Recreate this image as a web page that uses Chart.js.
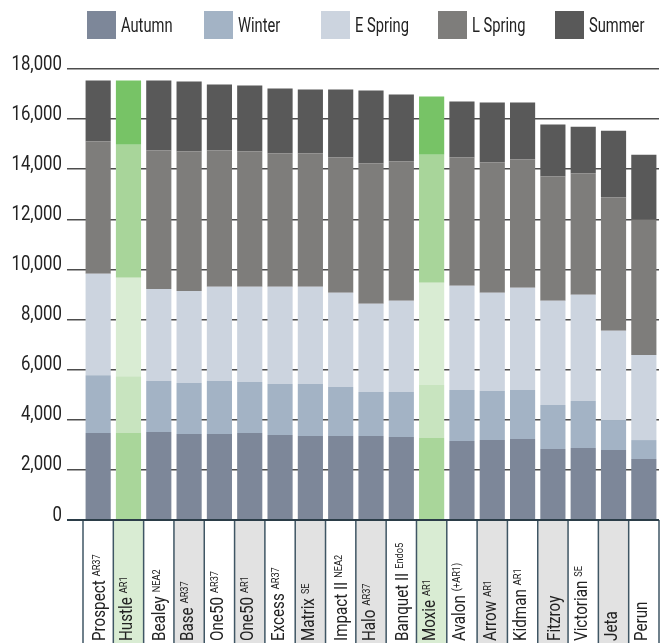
<!DOCTYPE html>
<html>
<head>
<meta charset="utf-8">
<script src="https://cdn.jsdelivr.net/npm/chart.js@4.4.1/dist/chart.umd.min.js"></script>
<style>
  html, body { margin: 0; padding: 0; background: #fff; }
  #wrap { position: relative; width: 668px; height: 643px; }
  #legend { position: absolute; left: 87px; top: 11px; display: flex; }
  .item { width: 117px; height: 28px; display: flex; align-items: center; color: #222;
          font: 21px Roboto, sans-serif; white-space: nowrap; }
  .box { width: 29px; height: 28px; margin-right: 5px; flex: none; }
  .txt { display: inline-block; transform: scaleX(0.7); transform-origin: left center; }
</style>
</head>
<body>
<div id="wrap">
  <canvas id="chart" width="668" height="643"></canvas>
  <div id="legend"></div>
</div>
<script>
// --- DATA ---
const varieties = ['Prospect', 'Hustle', 'Bealey', 'Base', 'One50', 'One50', 'Excess', 'Matrix', 'Impact II', 'Halo',
                   'Banquet II', 'Moxie', 'Avalon', 'Arrow', 'Kidman', 'Fitzroy', 'Victorian', 'Jeta', 'Perun'];
const endophytes = ['AR37', 'AR1', 'NEA2', 'AR37', 'AR37', 'AR1', 'AR37', 'SE', 'NEA2', 'AR37',
                    'Endo5', 'AR1', '(+AR1)', 'AR1', 'AR1', '', 'SE', '', ''];
const newVarieties = ['Hustle', 'Moxie'];

const seasons = ['Autumn', 'Winter', 'E Spring', 'L Spring', 'Summer'];
const autumn      = [3470, 3470, 3510, 3430, 3430, 3470, 3390, 3350, 3350, 3350, 3310, 3270, 3150, 3190, 3230, 2830, 2870, 2790, 2430];
const winter      = [2310, 2270, 2040, 2040, 2120, 2040, 2040, 2080, 1960, 1760, 1800, 2120, 2040, 1960, 1960, 1760, 1880, 1200, 760];
const earlySpring = [4050, 3930, 3670, 3670, 3760, 3800, 3880, 3880, 3760, 3520, 3640, 4080, 4160, 3920, 4080, 4160, 4240, 3560, 3400];
const lateSpring  = [5280, 5310, 5530, 5570, 5440, 5400, 5320, 5320, 5400, 5600, 5560, 5110, 5120, 5200, 5120, 4960, 4840, 5320, 5400];
const summer      = [2430, 2560, 2790, 2790, 2630, 2630, 2590, 2550, 2710, 2910, 2670, 2320, 2230, 2390, 2270, 2070, 1870, 2670, 2590];

const yMax = 18000;
const yStep = 2000;

// --- STYLE ---
const FONT = 'Roboto, sans-serif';
const SQUEEZE = 0.8; // pas de police condensee dispo -> on ecrase en largeur
const greyColours  = ['#7d8799', '#a3b3c5', '#ccd4df', '#7e7d7b', '#595959'];
const greenColours = ['#a9d69a', '#c8e4bf', '#d9ecd3', '#a8d59a', '#77c366'];

const seriesValues = [autumn, winter, earlySpring, lateSpring, summer];

const datasets = seasons.map((name, s) => ({
    label: name,
    data: seriesValues[s],
    backgroundColor: varieties.map(v => newVarieties.includes(v) ? greenColours[s] : greyColours[s]),
    borderWidth: 0,
    barPercentage: 0.83,
    categoryPercentage: 1.0
}));

// Legende HTML
const legendDiv = document.getElementById('legend');
seasons.forEach((name, s) => {
    const item = document.createElement('div');
    item.className = 'item';
    item.innerHTML = `<span class="box" style="background:${greyColours[s]}"></span><span class="txt">${name}</span>`;
    legendDiv.appendChild(item);
});

// Texte ecrase horizontalement
function squeezedText(ctx, text, x, y, align) {
    ctx.save();
    ctx.translate(x, y);
    ctx.scale(SQUEEZE, 1);
    ctx.textAlign = align;
    ctx.fillText(text, 0, 0);
    ctx.restore();
}

// Etiquettes de l'axe Y
const yLabels = {
    id: 'yLabels',
    afterDraw(chart) {
        const ctx = chart.ctx;
        const yScale = chart.scales.y;
        ctx.save();
        ctx.fillStyle = '#222';
        ctx.font = '21px ' + FONT;
        ctx.textBaseline = 'alphabetic';
        yScale.ticks.forEach(t => {
            squeezedText(ctx, t.value.toLocaleString('en-US'), 62, yScale.getPixelForValue(t.value) + 0.5, 'right');
        });
        ctx.restore();
    }
};

// Cellules des noms sous l'axe
const labelCells = {
    id: 'labelCells',
    afterDraw(chart) {
        const ctx = chart.ctx;
        const xScale = chart.scales.x;
        const area = chart.chartArea;
        const w = (area.right - area.left) / varieties.length;
        const top = area.bottom;
        const bottom = chart.height;

        ctx.save();
        varieties.forEach((name, i) => {
            const cx = xScale.getPixelForValue(i);
            ctx.fillStyle = newVarieties.includes(name) ? '#d9ecd3' : (i % 2 ? '#e2e2e2' : '#ffffff');
            ctx.fillRect(cx - w / 2, top, w, bottom - top);
        });

        ctx.strokeStyle = '#3f5664';
        ctx.lineWidth = 1.5;
        for (let i = 0; i <= varieties.length; i++) {
            const x = area.left + i * w;
            ctx.beginPath();
            ctx.moveTo(x, top);
            ctx.lineTo(x, bottom);
            ctx.stroke();
        }
        ctx.strokeStyle = '#2b3d48';
        ctx.lineWidth = 2;
        ctx.beginPath();
        ctx.moveTo(area.left - 16, top);
        ctx.lineTo(area.right, top);
        ctx.stroke();

        ctx.fillStyle = '#222';
        ctx.textBaseline = 'alphabetic';
        varieties.forEach((name, i) => {
            const cx = xScale.getPixelForValue(i);
            ctx.font = '19px ' + FONT;
            const m = ctx.measureText(name);
            const shift = 3.5 + m.actualBoundingBoxDescent * 0.8;
            ctx.save();
            ctx.translate(cx + shift, bottom - 2);
            ctx.rotate(-Math.PI / 2);
            ctx.scale(SQUEEZE, 1);
            ctx.textAlign = 'left';
            ctx.fillText(name, 0, 0);
            if (endophytes[i]) {
                ctx.font = '11.5px ' + FONT;
                ctx.fillText(endophytes[i], m.width + 5, -5);
            }
            ctx.restore();
        });
        ctx.restore();
    }
};

new Chart(document.getElementById('chart'), {
    type: 'bar',
    data: { labels: varieties, datasets: datasets },
    options: {
        responsive: false,
        animation: false,
        layout: { padding: { top: 69, right: 9, bottom: 123, left: 0 } },
        plugins: {
            legend: { display: false },
            tooltip: { enabled: false }
        },
        scales: {
            x: {
                stacked: true,
                display: false
            },
            y: {
                stacked: true,
                min: 0,
                max: yMax,
                border: { display: false },
                grid: { color: '#4d4d4d', lineWidth: 1.5, tickLength: 16 },
                ticks: { stepSize: yStep, display: false },
                afterFit: scale => { scale.width = 83; }
            }
        }
    },
    plugins: [labelCells, yLabels]
});
</script>
</body>
</html>
